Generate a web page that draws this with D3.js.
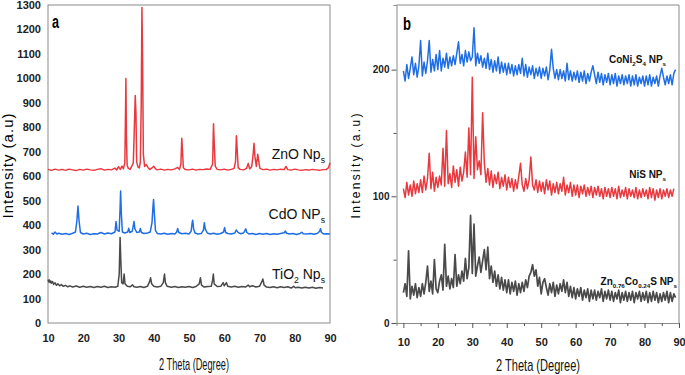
<!DOCTYPE html>
<html>
<head>
<meta charset="utf-8">
<script src="https://cdn.jsdelivr.net/npm/d3@7"></script>
<style>
  body { margin: 0; background: #fff; }
  svg { display: block; font-family: "Liberation Sans Narrow", "Arial Narrow", "Liberation Sans", sans-serif; }
  .tick text { font-weight: bold; fill: #222; }
</style>
</head>
<body>
<svg width="685" height="375"></svg>
<script>
// ---- panel a : [2theta, intensity] pairs ----
var znoData = [[10,628],[11,624],[12,629],[13,625],[14,628],[15,624],[16,629],[17,626],[18,623],[19,628],[20,625],[21,629],[22,626],[23,624],[24,628],[25,631],[26,625],[27,628],[28,626],[29,633],[29.5,626],[30,639],[30.5,628],[31,641],[31.4,630],[31.8,655],[32.0,870],[32.1,1000],[32.25,760],[32.45,645],[32.8,632],[33.3,628],[33.8,642],[34.2,655],[34.5,800],[34.75,930],[34.95,860],[35.15,660],[35.5,638],[35.9,634],[36.2,660],[36.45,900],[36.65,1290],[36.85,1050],[37.05,690],[37.4,640],[37.9,648],[38.4,635],[38.9,628],[39.5,634],[40,641],[40.5,630],[41,626],[42,629],[43,625],[44,628],[45,626],[46,630],[46.8,636],[47.3,628],[47.7,650],[47.95,755],[48.2,690],[48.4,635],[48.9,628],[50,626],[51,629],[52,625],[53,628],[54,627],[55,630],[56,628],[56.7,650],[56.95,815],[57.2,720],[57.45,640],[58,628],[59,626],[60,629],[61,625],[62,628],[62.8,632],[63.2,660],[63.45,765],[63.7,700],[63.95,635],[64.5,628],[65.5,626],[66.3,632],[66.8,652],[67.2,630],[67.8,640],[68.2,690],[68.45,735],[68.7,680],[69.1,640],[69.5,690],[69.75,665],[70.1,632],[71,627],[72,629],[73,625],[74,628],[75,626],[76,629],[77,627],[77.5,640],[78,627],[79,625],[80,629],[81,626],[82,624],[83,627],[84,625],[85,628],[86,626],[87,624],[88,627],[89,628],[89.6,635],[90,655]];

var cdoData = [[11,368],[11.5,363],[12,372],[12.5,364],[13,367],[14,363],[15,366],[16,362],[17,367],[17.8,372],[18.2,420],[18.5,478],[18.8,420],[19.2,370],[20,364],[21,367],[22,362],[23,365],[24,364],[25,370],[26,364],[27,368],[28,365],[29,372],[29.3,415],[29.6,380],[30.2,375],[30.45,470],[30.6,540],[30.8,450],[31.1,372],[31.8,368],[32.6,372],[32.9,387],[33.2,370],[33.9,375],[34.2,398],[34.4,415],[34.65,385],[35.2,370],[35.9,372],[36.2,386],[36.5,370],[37.2,366],[38.2,368],[39,372],[39.5,410],[39.8,480],[39.95,505],[40.2,440],[40.5,378],[41,366],[42,364],[43,367],[44,363],[45,366],[46,364],[46.5,372],[46.8,386],[47.1,370],[48,365],[49,367],[50,364],[50.6,375],[50.9,410],[51.05,420],[51.3,385],[51.7,368],[52.5,364],[53.5,366],[54.1,380],[54.35,410],[54.6,385],[55.2,368],[56,364],[57,367],[58,363],[59,366],[59.8,372],[60.1,390],[60.4,370],[61,366],[62,364],[63,368],[63.4,380],[63.8,372],[64.5,365],[65.5,368],[66.1,385],[66.4,370],[67,364],[68,366],[69,362],[70,366],[71,363],[72,366],[73,362],[74,365],[75,363],[76,366],[77,369],[77.3,376],[77.7,367],[78.5,364],[79.5,366],[80.5,362],[81.5,366],[82,371],[82.4,365],[83.5,364],[84.5,366],[85.5,363],[86.5,367],[87.1,376],[87.3,385],[87.6,370],[88.2,364],[89,365],[90,364]];

var tio2Data = [[10,178],[10.2,168],[10.4,176],[10.6,165],[10.8,172],[11,163],[11.3,169],[11.6,158],[12,164],[12.4,154],[12.8,160],[13.3,152],[13.8,157],[14.3,150],[15,154],[15.6,148],[16.2,152],[17,147],[18,151],[19,146],[20,150],[21,146],[22,149],[23,145],[24,149],[25,146],[26,150],[27,145],[28,148],[29,146],[29.8,150],[30.2,200],[30.45,350],[30.65,260],[30.9,165],[31.3,160],[31.6,200],[31.85,160],[32.5,150],[33.3,148],[34,156],[34.4,148],[35.2,146],[36.2,149],[37.2,145],[38.2,150],[38.8,168],[39.1,185],[39.4,160],[40,150],[41,147],[42,150],[42.7,165],[43.05,200],[43.3,165],[43.8,150],[45,146],[46,149],[47,145],[48,148],[49,146],[50,149],[51,145],[52,149],[52.9,160],[53.25,185],[53.55,155],[54.3,147],[55.3,149],[56.3,150],[56.7,175],[56.9,200],[57.15,160],[58,149],[59,150],[59.7,165],[60,152],[60.6,165],[61,150],[62,147],[63,150],[64,146],[65,149],[66,147],[66.8,155],[67.2,148],[68,152],[69,147],[70,150],[70.7,170],[70.95,180],[71.3,155],[72,147],[73,145],[74,148],[75,144],[76,148],[77,145],[78,148],[79,143],[79.7,150],[80.2,144],[81,146],[82,143],[83,146],[84,143],[85,146],[86,142],[87,145],[88,143]];

// ---- panel b : intensities every 0.5 deg from 10 to 89 ----
var bStart = 10, bStep = 0.5;
var coni2s4 = [
  199,191,204,193,201,210,196,205,194,203,
  223,195,206,197,207,223,198,208,199,212,
  200,215,199,209,202,213,201,210,203,211,
  204,213,222,205,212,203,215,206,214,207,
  210,233,203,213,205,211,202,209,201,213,
  200,208,198,207,199,210,197,206,198,205,
  196,205,197,204,195,203,196,204,197,209,
  195,204,194,202,196,203,193,201,195,202,
  193,201,195,202,192,200,216,201,193,200,
  192,200,193,199,191,205,192,199,191,198,
  192,199,190,198,191,199,189,197,191,198,
  203,196,189,198,190,197,188,196,190,197,
  188,196,189,197,187,195,189,196,188,195,
  189,196,187,195,188,196,187,194,189,195,
  187,195,188,196,187,194,189,195,187,195,
  201,194,188,195,189,196,188,197,200];
var nis = [
  106,99,111,101,109,100,112,102,110,103,
  113,103,116,105,114,134,106,119,104,115,
  107,116,109,138,108,152,110,118,107,124,
  111,121,108,123,112,119,135,115,154,117,
  194,114,147,121,128,117,166,126,111,122,
  109,120,107,117,110,119,106,115,108,117,
  105,115,107,114,104,113,106,116,126,109,
  104,114,106,113,131,109,105,113,103,112,
  104,111,102,113,105,112,101,110,103,111,
  102,110,104,115,101,109,103,111,100,109,
  101,109,99,108,102,109,100,107,101,108,
  99,107,101,108,100,106,98,107,100,106,
  99,107,100,106,98,108,99,105,100,107,
  98,106,100,105,99,107,98,105,99,106,
  100,105,98,107,99,106,97,105,99,106,
  98,105,100,106,99,105,100,106];
var zncos = [
  24,31,21,57,19,29,22,31,20,28,
  21,31,23,32,45,25,33,23,50,27,
  24,33,38,26,62,29,37,27,35,28,
  54,29,38,31,41,33,51,35,44,85,
  39,78,37,45,52,40,49,58,42,60,
  35,45,32,41,29,38,27,36,26,34,
  24,34,23,32,25,33,22,31,24,32,
  25,34,28,37,40,46,37,42,29,36,
  23,32,35,28,22,31,24,32,21,30,
  23,31,25,34,24,32,21,29,20,28,
  19,27,21,28,18,26,20,27,17,26,
  19,26,18,25,20,27,17,25,19,26,
  18,25,17,24,19,26,16,24,18,25,
  17,24,18,25,16,24,19,25,17,24,
  18,25,16,24,17,25,18,24,16,23,
  17,24,18,25,16,24,17,23,20];

var xTicks = [10,20,30,40,50,60,70,80,90];
var yTicksA = [0,100,200,300,400,500,600,700,800,900,1000,1100,1200,1300];
var yTicksB = [0,100,200];

var red = "#e9393e", blue = "#1f6ee6", gray = "#4a4a4a";

var svg = d3.select("svg");

// ================= panel a =================
var xa = d3.scaleLinear().domain([10,90]).range([48,330]);
var ya = d3.scaleLinear().domain([0,1300]).range([323,5]);
var ga = svg.append("g");

ga.append("rect").attr("x",48).attr("y",5).attr("width",282).attr("height",318)
  .attr("fill","none").attr("stroke","#8a8a8a").attr("stroke-width",1);

ga.append("g").attr("transform","translate(0,323)")
  .call(d3.axisBottom(xa).tickValues(xTicks).tickSize(0).tickPadding(11).tickFormat(d3.format("d")))
  .call(function(g){ g.attr("font-family",null).attr("font-size",11); g.select(".domain").remove(); });
ga.append("g").attr("transform","translate(48,0)")
  .call(d3.axisLeft(ya).tickValues(yTicksA).tickSize(0).tickPadding(7).tickFormat(d3.format("d")))
  .call(function(g){ g.attr("font-family",null).attr("font-size",11); g.select(".domain").remove(); });

var lineA = d3.line().x(function(d){ return xa(d[0]); }).y(function(d){ return ya(d[1]); });
[[tio2Data,gray],[cdoData,blue],[znoData,red]].forEach(function(s){
  ga.append("path").datum(s[0]).attr("d",lineA)
    .attr("fill","none").attr("stroke",s[1]).attr("stroke-width",1.5).attr("stroke-linejoin","round");
});

ga.append("text").attr("x",52).attr("y",28).attr("font-size",18).attr("font-weight","bold")
  .attr("textLength",7).attr("lengthAdjust","spacingAndGlyphs").text("a");

function addLabel(g, x, y, size, parts){
  var t = g.append("text").attr("x",x).attr("y",y).attr("font-size",size).attr("text-anchor","end").attr("fill","#111");
  parts.forEach(function(p){
    var ts = t.append("tspan").text(p[0]);
    if (p[1]) ts.attr("font-size",size*0.62).attr("dy",size*0.3);
    else if (p[2]) ts.attr("dy",-size*0.3);
  });
  return t;
}
addLabel(ga, 325, 159, 14, [["ZnO Np"],["s",1]]);
addLabel(ga, 325, 219, 14, [["CdO NP"],["s",1]]);
addLabel(ga, 325, 279, 14, [["TiO"],["2",1],[" Np",0,1],["s",1]]);

ga.append("text").attr("transform","translate(13,166) rotate(-90)")
  .attr("text-anchor","middle").attr("font-size",15)
  .attr("textLength",105).attr("lengthAdjust","spacing").text("Intensity (a.u)");
ga.append("text").attr("x",194).attr("y",370).attr("text-anchor","middle").attr("font-size",17).attr("fill","#111")
  .attr("textLength",70).attr("lengthAdjust","spacingAndGlyphs").text("2 Theta (Degree)");

// ================= panel b =================
var xb = d3.scaleLinear().domain([8,90]).range([396.5,679]);
var yb = d3.scaleLinear().domain([0,251]).range([323,5]);
var gb = svg.append("g");

gb.append("line").attr("x1",396.5).attr("x2",679).attr("y1",5).attr("y2",5).attr("stroke","#8a8a8a");
gb.append("line").attr("x1",679).attr("x2",679).attr("y1",5).attr("y2",323).attr("stroke","#8a8a8a");

gb.append("g").attr("transform","translate(0,323)")
  .call(d3.axisBottom(xb).tickValues(d3.range(10,91,5)).tickSize(3).tickPadding(12)
    .tickFormat(function(d){ return d % 10 === 0 ? d : ""; }))
  .call(function(g){
    g.attr("font-family",null).attr("font-size",11);
    g.select(".domain").attr("stroke","#8a8a8a");
    g.selectAll(".tick line").attr("stroke","#555").attr("y2",function(d){ return d % 10 === 0 ? 5 : 3; });
  });
gb.append("g").attr("transform","translate(396.5,0)")
  .call(d3.axisLeft(yb).tickValues([0,50,100,150,200]).tickSize(3).tickPadding(4)
    .tickFormat(function(d){ return yTicksB.indexOf(d) >= 0 ? d : ""; }))
  .call(function(g){
    g.attr("font-family",null).attr("font-size",10);
    g.select(".domain").attr("stroke","#8a8a8a");
    g.selectAll(".tick line").attr("stroke","#555").attr("x2",function(d){ return d % 100 === 0 ? -5 : -3; });
  });

var lineB = d3.line().x(function(d,i){ return xb(bStart + i*bStep); }).y(function(d){ return yb(d); });
[[zncos,gray,1.7],[nis,red,1.5],[coni2s4,blue,1.5]].forEach(function(s){
  gb.append("path").datum(s[0]).attr("d",lineB)
    .attr("fill","none").attr("stroke",s[1]).attr("stroke-width",s[2]).attr("stroke-linejoin","round");
});

gb.append("text").attr("x",403).attr("y",30).attr("font-size",18).attr("font-weight","bold")
  .attr("textLength",8).attr("lengthAdjust","spacingAndGlyphs").text("b");

addLabel(gb, 666, 63, 10, [["CoNi"],["2",1],["S",0,1],["4",1],[" NP",0,1],["s",1]]).attr("font-weight","bold");
addLabel(gb, 666, 178, 10, [["NiS NP"],["s",1]]).attr("font-weight","bold");
addLabel(gb, 677, 285, 10, [["Zn"],["0.76",1],["Co",0,1],["0.24",1],["S NP",0,1],["s",1]]).attr("font-weight","bold");

gb.append("text").attr("transform","translate(360,166) rotate(-90)")
  .attr("text-anchor","middle").attr("font-size",12)
  .attr("textLength",105).attr("lengthAdjust","spacing").text("Intensity (a.u)");
gb.append("text").attr("x",538).attr("y",371).attr("text-anchor","middle").attr("font-size",17).attr("fill","#111")
  .attr("textLength",84).attr("lengthAdjust","spacingAndGlyphs").text("2 Theta (Degree)");
</script>
</body>
</html>
